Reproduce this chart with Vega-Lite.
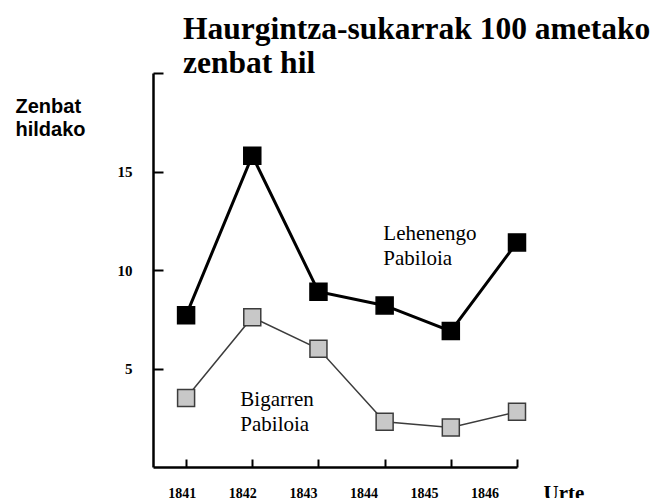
{
  "$schema": "https://vega.github.io/schema/vega-lite/v6.json",
  "width": 364,
  "height": 394,
  "autosize": {"type": "none"},
  "padding": {"left": 153, "top": 73, "right": 138, "bottom": 31},
  "background": "white",
  "title": {
    "text": ["Haurgintza-sukarrak 100 ametako", "zenbat hil"],
    "font": "Liberation Serif",
    "fontSize": 31.5,
    "fontWeight": "bold",
    "color": "black",
    "anchor": "start",
    "frame": "group",
    "dx": 30,
    "dy": 9,
    "lineHeight": 34,
    "offset": 2
  },
  "config": {"view": {"stroke": null}, "axis": {"grid": false}},
  "datasets": {
    "rates": [
      {"year": 1841, "rate": 7.7, "series": "Lehenengo Pabiloia"},
      {"year": 1842, "rate": 15.8, "series": "Lehenengo Pabiloia"},
      {"year": 1843, "rate": 8.9, "series": "Lehenengo Pabiloia"},
      {"year": 1844, "rate": 8.2, "series": "Lehenengo Pabiloia"},
      {"year": 1845, "rate": 6.9, "series": "Lehenengo Pabiloia"},
      {"year": 1846, "rate": 11.4, "series": "Lehenengo Pabiloia"},
      {"year": 1841, "rate": 3.5, "series": "Bigarren Pabiloia"},
      {"year": 1842, "rate": 7.6, "series": "Bigarren Pabiloia"},
      {"year": 1843, "rate": 6.0, "series": "Bigarren Pabiloia"},
      {"year": 1844, "rate": 2.3, "series": "Bigarren Pabiloia"},
      {"year": 1845, "rate": 2.0, "series": "Bigarren Pabiloia"},
      {"year": 1846, "rate": 2.8, "series": "Bigarren Pabiloia"}
    ],
    "notes": [
      {"year": 1843.98, "rate": 11.5, "label": "Lehenengo\nPabiloia"},
      {"year": 1841.82, "rate": 3.1, "label": "Bigarren\nPabiloia"}
    ]
  },
  "layer": [
    {
      "data": {"name": "rates"},
      "encoding": {
        "x": {
          "field": "year",
          "type": "quantitative",
          "scale": {"domain": [1840.5, 1846], "nice": false, "zero": false},
          "axis": {
            "values": [1841, 1842, 1843, 1844, 1845, 1846],
            "labels": false,
            "title": null,
            "domain": true,
            "domainColor": "black",
            "domainWidth": 2.5,
            "ticks": true,
            "tickSize": -8,
            "tickColor": "black",
            "tickWidth": 2,
            "grid": false
          }
        },
        "y": {
          "field": "rate",
          "type": "quantitative",
          "scale": {"domain": [0, 20], "nice": false},
          "axis": {
            "values": [5, 10, 15, 20],
            "labelExpr": "datum.value == 20 ? '' : datum.label",
            "domain": true,
            "domainColor": "black",
            "domainWidth": 2.5,
            "tickSize": -10,
            "tickColor": "black",
            "tickWidth": 2,
            "grid": false,
            "labelFont": "Liberation Serif",
            "labelFontWeight": "bold",
            "labelFontSize": 15,
            "labelColor": "black",
            "labelPadding": 31,
            "title": ["Zenbat", "hildako"],
            "titleFont": "Liberation Sans",
            "titleFontSize": 20,
            "titleFontWeight": "bold",
            "titleColor": "black",
            "titleAngle": 0,
            "titleAlign": "left",
            "titleBaseline": "alphabetic",
            "titleX": -138,
            "titleY": 39,
            "titleLineHeight": 23
          }
        }
      },
      "layer": [
        {
          "mark": {"type": "line"},
          "encoding": {
            "detail": {"field": "series"},
            "stroke": {
              "field": "series",
              "type": "nominal",
              "scale": {"domain": ["Lehenengo Pabiloia", "Bigarren Pabiloia"], "range": ["#000000", "#3c3c3c"]},
              "legend": null
            },
            "strokeWidth": {
              "field": "series",
              "type": "nominal",
              "scale": {"domain": ["Lehenengo Pabiloia", "Bigarren Pabiloia"], "range": [3, 1.5]},
              "legend": null
            }
          }
        },
        {
          "mark": {"type": "point", "shape": "square", "filled": true, "size": 289, "opacity": 1, "strokeWidth": 1.5},
          "encoding": {
            "fill": {
              "field": "series",
              "type": "nominal",
              "scale": {"domain": ["Lehenengo Pabiloia", "Bigarren Pabiloia"], "range": ["#000000", "#c8c8c8"]},
              "legend": null
            },
            "stroke": {
              "field": "series",
              "type": "nominal",
              "legend": null
            }
          }
        },
        {
          "data": {"name": "notes"},
          "mark": {
            "type": "text",
            "font": "Liberation Serif",
            "fontSize": 21,
            "align": "left",
            "baseline": "alphabetic",
            "lineBreak": "\n",
            "lineHeight": 25,
            "color": "black"
          },
          "encoding": {
            "text": {"field": "label"}
          }
        }
      ]
    },
    {
      "data": {"name": "rates"},
      "mark": {"type": "point", "opacity": 0},
      "encoding": {
        "x": {
          "field": "year",
          "type": "quantitative",
          "scale": {"domain": [1840.525, 1846.535], "nice": false, "zero": false},
          "axis": {
            "orient": "bottom",
            "values": [1841, 1842, 1843, 1844, 1845, 1846],
            "format": "d",
            "domain": false,
            "ticks": false,
            "grid": false,
            "labelFont": "Liberation Serif",
            "labelFontWeight": "bold",
            "labelFontSize": 14,
            "labelColor": "black",
            "labelBaseline": "top",
            "labelPadding": 19,
            "labelFlush": false,
            "labelOverlap": false,
            "title": "Urte",
            "titleFont": "Liberation Serif",
            "titleFontSize": 21,
            "titleFontWeight": "bold",
            "titleColor": "black",
            "titleAlign": "left",
            "titleAnchor": "start",
            "titleBaseline": "alphabetic",
            "titleX": 390,
            "titleY": 32
          }
        }
      }
    }
  ],
  "resolve": {"scale": {"x": "independent"}, "axis": {"x": "independent"}}
}
